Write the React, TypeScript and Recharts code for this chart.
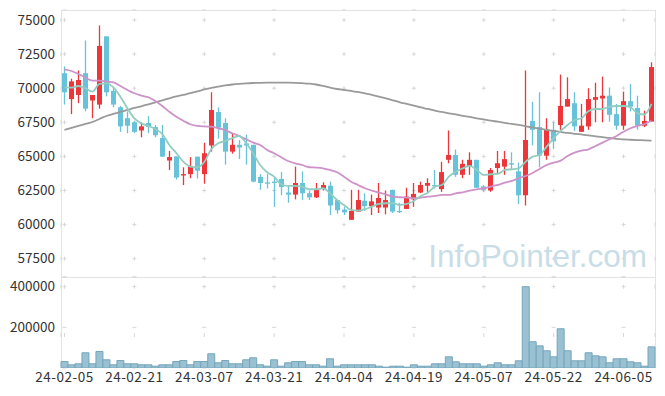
import { ComposedChart, Bar, Line, XAxis, YAxis, CartesianGrid } from "recharts";

// 거래일 (KRX, 2024)
const dates = [
  "24-02-05", "24-02-06", "24-02-07", "24-02-08", "24-02-13", "24-02-14", "24-02-15", "24-02-16", "24-02-19", "24-02-20",
  "24-02-21", "24-02-22", "24-02-23", "24-02-26", "24-02-27", "24-02-28", "24-02-29", "24-03-04", "24-03-05", "24-03-06",
  "24-03-07", "24-03-08", "24-03-11", "24-03-12", "24-03-13", "24-03-14", "24-03-15", "24-03-18", "24-03-19", "24-03-20",
  "24-03-21", "24-03-22", "24-03-25", "24-03-26", "24-03-27", "24-03-28", "24-03-29", "24-04-01", "24-04-02", "24-04-03",
  "24-04-04", "24-04-05", "24-04-08", "24-04-09", "24-04-11", "24-04-12", "24-04-15", "24-04-16", "24-04-17", "24-04-18",
  "24-04-19", "24-04-22", "24-04-23", "24-04-24", "24-04-25", "24-04-26", "24-04-29", "24-04-30", "24-05-02", "24-05-03",
  "24-05-07", "24-05-08", "24-05-09", "24-05-10", "24-05-13", "24-05-14", "24-05-16", "24-05-17", "24-05-20", "24-05-21",
  "24-05-22", "24-05-23", "24-05-24", "24-05-27", "24-05-28", "24-05-29", "24-05-30", "24-05-31", "24-06-03", "24-06-04",
  "24-06-05", "24-06-07", "24-06-10", "24-06-11", "24-06-12",
];

const opens = [
  71100, 69200, 69500, 71100, 69100, 68800, 73800, 69800, 68600, 67800,
  67500, 66900, 67450, 67150, 66350, 64700, 65000, 63600, 63700, 64980,
  63700, 65800, 68250, 67450, 65350, 65850, 65950, 65850, 63500, 63100,
  63150, 63350, 62350, 62200, 63050, 62300, 62000, 62600, 62850, 61800,
  61100, 60350, 60950, 61750, 61350, 61250, 61250, 62550, 61000, 61150,
  61850, 62350, 62850, 62900, 62600, 64750, 65100, 63650, 64300, 64750,
  62800, 62500, 64150, 64250, 64500, 63900, 62150, 67600, 67150, 65050,
  66950, 67300, 68650, 68900, 66800, 67200, 69150, 69250, 69450, 68100,
  67250, 69050, 68550, 67250, 67550,
];

const highs = [
  71600, 70700, 71300, 73500, 69500, 74600, 73800, 70100, 68700, 68300,
  67600, 67500, 67950, 67300, 67300, 65400, 65000, 64200, 64950, 64980,
  66000, 69700, 68600, 67800, 66650, 66200, 66600, 65850, 63700, 63700,
  63500, 63850, 62900, 64250, 63900, 62500, 63050, 63100, 63150, 61800,
  61300, 62550, 62550, 62300, 62200, 63050, 62500, 62550, 61600, 62700,
  63050, 63150, 63400, 64000, 64600, 66900, 65500, 64750, 65300, 64750,
  62900, 64150, 65400, 65400, 65300, 64550, 71300, 69000, 69700, 67800,
  67550, 71000, 70800, 69700, 68850, 70000, 70400, 70850, 70050, 68850,
  69750, 70300, 69450, 68350, 71900,
];

const lows = [
  68800, 68100, 68900, 68300, 67800, 68500, 69400, 68600, 66800, 66700,
  66700, 66400, 66700, 66400, 64950, 64000, 63300, 62900, 63400, 63380,
  63000, 65350, 66300, 64400, 65200, 64800, 64400, 63100, 62550, 62650,
  61300, 62150, 61600, 61850, 61800, 61800, 61950, 62500, 60700, 60800,
  60700, 60350, 60950, 61000, 60700, 60850, 60750, 60850, 60850, 61150,
  61300, 62300, 62400, 62650, 62400, 64500, 63500, 63400, 63650, 62700,
  62400, 62400, 63750, 63650, 64000, 61500, 61400, 65800, 64200, 64750,
  65550, 66950, 68650, 66850, 66800, 66950, 67500, 67500, 67550, 66950,
  66950, 68300, 66950, 67150, 67550,
];

const closes = [
  69700, 70500, 70600, 68500, 69500, 73100, 69700, 68800, 67200, 67250,
  66800, 67200, 67150, 66550, 64980, 64950, 63450, 63700, 64300, 63950,
  65230, 68400, 67100, 65350, 65850, 65650, 65800, 63150, 63050, 63000,
  63050, 62750, 62200, 63050, 62300, 62000, 62600, 62900, 61400, 61050,
  60900, 61000, 61800, 61350, 61700, 61950, 61800, 60950, 60950, 62050,
  62250, 62900, 63050, 62850, 63850, 65100, 63650, 64450, 64750, 62700,
  62550, 64000, 64500, 64800, 64400, 62150, 66200, 66950, 65050, 66950,
  66100, 68700, 69200, 67200, 67250, 69200, 69350, 69450, 68050, 67250,
  69050, 68650, 67250, 67600, 71550,
];

const volumes = [
  32000, 15800, 20700, 74900, 20700, 81300, 40400, 15800, 36900, 20700,
  20700, 15800, 15800, 8900, 15800, 15800, 32000, 36900, 15800, 32000,
  32000, 70000, 25600, 36900, 20700, 20700, 40400, 50200, 15800, 8900,
  40400, 8900, 25600, 32000, 32000, 15800, 15800, 8900, 45300, 8900,
  15800, 15800, 15800, 15800, 15800, 8900, 4000, 8900, 8900, 4000,
  15800, 8900, 8900, 20700, 20700, 55000, 30500, 20700, 20700, 20700,
  8900, 15800, 25600, 15800, 15800, 35500, 400000, 129000, 109000, 84700,
  55000, 193000, 84700, 35500, 35500, 74900, 60000, 55000, 25600, 45300,
  45300, 30500, 25600, 8900, 104000,
];

// 이동평균선
const ma5 = [
  70067, 70038, 70162, 69994, 69744, 70309, 70360, 70067, 69378, 68528,
  67795, 67428, 67230, 67010, 66630, 65837, 65251, 64613, 64247, 64190,
  64591, 65522, 65962, 66131, 66329, 66497, 65962, 65229, 64371, 63836,
  63514, 62957, 62832, 62832, 62781, 62590, 62590, 62664, 62297, 61806,
  61439, 61073, 61022, 61124, 61315, 61513, 61564, 61564, 61439, 61513,
  61733, 62099, 62341, 62781, 62905, 63514, 63880, 64130, 64298, 64005,
  63638, 63690, 63712, 64005, 64056, 64130, 64613, 64980, 65104, 65713,
  66329, 66864, 67303, 67670, 67795, 68330, 68476, 68476, 68645, 68696,
  68696, 68601, 68161, 68073, 68843,
];

const ma20 = [
  71386, 71262, 71042, 70771, 70551, 70551, 70477, 70433, 70162, 69869,
  69627, 69451, 69334, 69063, 68696, 68278, 67912, 67619, 67355, 67230,
  67194, 67180, 67062, 66937, 66695, 66497, 66255, 66006, 65837, 65471,
  65229, 64936, 64665, 64496, 64371, 64203, 64180, 64130, 64005, 63836,
  63514, 63147, 62905, 62664, 62488, 62341, 62224, 62048, 62004, 61975,
  61931, 61975, 62048, 62099, 62172, 62172, 62297, 62370, 62488, 62590,
  62664, 62781, 62905, 63074, 63199, 63397, 63565, 63785, 64078, 64371,
  64540, 64687, 65031, 65273, 65420, 65522, 65764, 66006, 66255, 66497,
  66812, 67062, 67230, 67377, 67619,
];

const ma60 = [
  66937, 67084, 67230, 67377, 67523, 67743, 67963, 68110, 68256, 68403,
  68550, 68674, 68821, 68967, 69114, 69261, 69393, 69502, 69634, 69759,
  69906, 70016, 70111, 70199, 70272, 70323, 70360, 70382, 70397, 70404,
  70404, 70404, 70404, 70397, 70367, 70331, 70272, 70162, 70038, 69942,
  69869, 69796, 69722, 69612, 69502, 69378, 69261, 69114, 68967, 68843,
  68718, 68586, 68476, 68352, 68256, 68161, 68073, 67978, 67890, 67795,
  67707, 67619, 67545, 67465, 67377, 67303, 67208, 67120, 67032, 66937,
  66864, 66790, 66717, 66658, 66607, 66549, 66475, 66409, 66351, 66277,
  66241, 66219, 66197, 66175, 66153,
];

const priceTicks = [57500, 60000, 62500, 65000, 67500, 70000, 72500, 75000];
const volumeTicks = [200000, 400000];

const RED = "#ee3539";
const BLUE = "#68c2da";
const FONT = "'Noto Sans CJK KR', 'Noto Sans', sans-serif";

const rows = dates.map((date, i) => ({
  date,
  open: opens[i],
  high: highs[i],
  low: lows[i],
  close: closes[i],
  volume: volumes[i],
  ma5: ma5[i],
  ma20: ma20[i],
  ma60: ma60[i],
}));

// 캔들 하나 그리기 (Bar 범위값 [low, high] 기준)
function Candle(props: any) {
  const { x, y, width, height, payload } = props;
  if (!payload || x == null || y == null) return null;
  const { open, close, high, low } = payload;
  const top = Math.min(y, y + height);
  const h = Math.abs(height);
  const span = high - low || 1;
  const toY = (v: number) => top + ((high - v) / span) * h;
  const color = close > open ? RED : BLUE;
  const cx = Math.floor(x + width / 2) + 0.5;
  const bTop = toY(Math.max(open, close));
  const bBot = toY(Math.min(open, close));
  return (
    <g>
      <line x1={cx} x2={cx} y1={top} y2={top + h} stroke={color} strokeWidth={1.3} />
      <rect x={cx - 2.5} y={bTop} width={5} height={Math.max(bBot - bTop, 1.2)} fill={color} />
    </g>
  );
}

const yTickStyle = { fontSize: 13.5, fill: "#333", fontFamily: FONT };
const xTickStyle = { fontSize: 13.5, fill: "#333", fontFamily: FONT, letterSpacing: 0.5 };

export default function App() {
  return (
    <div
      style={{
        position: "absolute",
        left: 0,
        top: 0,
        width: 665,
        height: 396,
        background: "#fff",
        fontFamily: FONT,
      }}
    >
      {/* 배경: 워터마크, 테두리 */}
      <svg width={665} height={396} style={{ position: "absolute", left: 0, top: 0 }}>
        <text
          x={647}
          y={266.5}
          textAnchor="end"
          fontSize={31.5}
          fill="#c9dde7"
          fontFamily="'Liberation Sans', Arial, sans-serif"
        >
          InfoPointer.com
        </text>
        <g stroke="#e3e3e3" strokeWidth={1}>
          <line x1={61} x2={656} y1={10.5} y2={10.5} />
          <line x1={61} x2={656} y1={277.5} y2={277.5} />
          <line x1={61} x2={656} y1={367.5} y2={367.5} />
          <line x1={61.5} x2={61.5} y1={10} y2={368} />
          <line x1={655.5} x2={655.5} y1={10} y2={368} />
        </g>
      </svg>

      {/* 가격 패널 */}
      <div style={{ position: "absolute", left: 0, top: 0 }}>
        <ComposedChart
          width={665}
          height={278}
          data={rows}
          margin={{ top: 10, right: 10, bottom: 1, left: 0 }}
          barCategoryGap={0}
        >
          <CartesianGrid horizontal={true} vertical={false} stroke="#d8d8d8" strokeDasharray="0 1.5 4 64.38" />
          <CartesianGrid horizontal={false} vertical={true} stroke="#d8d8d8" strokeDasharray="0 8 4 22.1" />
          <XAxis dataKey="date" hide interval={9} />
          <YAxis
            width={61}
            domain={[56158, 75733]}
            ticks={priceTicks}
            allowDataOverflow
            axisLine={false}
            tickLine={false}
            tickSize={0}
            tickMargin={6}
            tick={yTickStyle}
          />
          <Bar
            dataKey={(d: any) => [d.low, d.high]}
            shape={(p: any) => <Candle {...p} />}
            isAnimationActive={false}
          />
          <Line type="monotone" dataKey="ma60" stroke="#9a9a9a" strokeWidth={1.8} dot={false} isAnimationActive={false} />
          <Line type="monotone" dataKey="ma20" stroke="#cc92c9" strokeWidth={1.8} dot={false} isAnimationActive={false} />
          <Line type="monotone" dataKey="ma5" stroke="#92cdc1" strokeWidth={1.8} dot={false} isAnimationActive={false} />
        </ComposedChart>
      </div>

      {/* 거래량 패널 (라벨 잘림 방지용 위쪽 여백 10px) */}
      <div style={{ position: "absolute", left: 0, top: 267 }}>
        <ComposedChart
          width={665}
          height={129}
          data={rows}
          margin={{ top: 10, right: 10, bottom: 0, left: 0 }}
          barCategoryGap={0}
        >
          <CartesianGrid horizontal={true} vertical={false} stroke="#d8d8d8" strokeDasharray="0 1.5 4 64.38" />
          <CartesianGrid horizontal={false} vertical={true} stroke="#d8d8d8" strokeDasharray="0 7.7 4 36.65" />
          <XAxis
            dataKey="date"
            interval={9}
            height={28}
            axisLine={false}
            tickLine={false}
            tickSize={0}
            tickMargin={4}
            tick={xTickStyle}
          />
          <YAxis
            width={61}
            domain={[0, 447700]}
            ticks={volumeTicks}
            allowDataOverflow
            axisLine={false}
            tickLine={false}
            tickSize={0}
            tickMargin={6}
            tick={yTickStyle}
          />
          <Bar dataKey="volume" fill="#9ac1d2" stroke="#75a6bc" strokeWidth={1} isAnimationActive={false} />
        </ComposedChart>
      </div>
    </div>
  );
}
